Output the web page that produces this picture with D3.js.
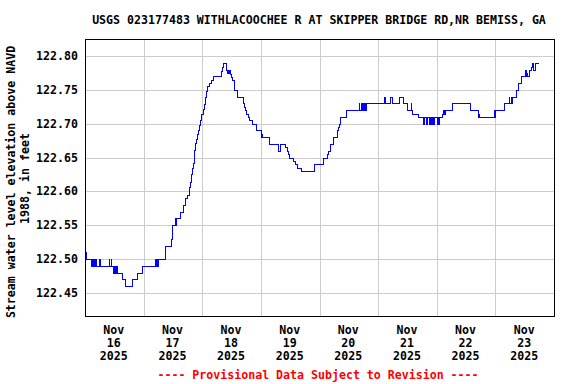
<!DOCTYPE html>
<html>
<head>
<meta charset="utf-8">
<script src="https://cdn.jsdelivr.net/npm/d3@7"></script>
<style>
	body { margin: 0; background: #fff; }
	svg { display: block; }
	text { font-family: "DejaVu Sans Mono", monospace; font-weight: bold; font-size: 11.6px; }
</style>
</head>
<body>
<svg id="chart" width="576" height="384"></svg>
<script>
// Gage readings: hours after Nov 16 2025 00:00 where the value changes, and the value (ft, NAVD 1988)
const hours = [
	0, 0.3, 2.3, 2.7, 3.4, 3.8, 4.0, 4.3, 4.5, 5.8, 6.1, 9.7, 10.0, 10.5, 10.8, 11.4, 11.7, 12.0, 12.3, 12.6,
	12.9, 13.3, 15.3, 16.2, 19.2, 21.1, 23.5, 28.7, 29.0, 29.4, 29.7, 30.0, 32.7, 35.1, 35.5, 35.8, 36.7, 37.0, 37.3, 38.9,
	40.3, 41.1, 41.9, 42.5, 42.7, 43.0, 43.4, 43.8, 44.1, 44.5, 44.8, 45.1, 45.5, 45.9, 46.3, 46.6, 47.0, 47.5, 48.2, 48.6,
	49.0, 49.5, 50.1, 50.8, 51.5, 52.5, 55.7, 56.1, 56.6, 57.8, 58.2, 58.4, 58.7, 59.0, 59.3, 59.8, 60.3, 60.8, 61.2, 62.4,
	64.5, 65.0, 65.4, 65.9, 66.6, 67.3, 68.2, 70.2, 72.0, 72.3, 72.6, 75.5, 79.2, 79.9, 81.9, 82.6, 83.0, 83.7, 85.3, 86.0,
	86.7, 88.4, 93.9, 97.3, 98.9, 99.6, 100.3, 101.7, 103.0, 103.7, 104.1, 104.4, 106.9, 112.0, 112.3, 112.8, 113.1, 113.6, 114.0, 114.4,
	114.7, 115.2, 122.3, 122.9, 124.9, 125.5, 128.7, 130.0, 131.7, 133.3, 133.6, 133.9, 136.2, 138.2, 138.6, 139.6, 140.0, 141.0, 141.4, 141.6,
	142.1, 142.6, 143.0, 144.0, 144.4, 144.7, 145.1, 146.0, 146.7, 147.0, 147.3, 150.3, 157.8, 160.7, 161.0, 161.3, 167.3, 167.6, 168.0, 171.4,
	173.4, 173.7, 174.2, 174.5, 174.8, 176.5, 177.3, 178.6, 180.1, 180.5, 180.8, 181.1, 181.6, 182.6, 183.0, 183.5, 184.1, 185.5,
];
const values = [
	122.51, 122.50, 122.49, 122.50, 122.49, 122.50, 122.49, 122.50, 122.49, 122.50, 122.49, 122.50, 122.49, 122.50, 122.49, 122.48, 122.49, 122.48, 122.49, 122.48,
	122.49, 122.48, 122.47, 122.46, 122.47, 122.48, 122.49, 122.50, 122.49, 122.50, 122.49, 122.50, 122.52, 122.53, 122.54, 122.55, 122.56, 122.55, 122.56, 122.57,
	122.58, 122.59, 122.595, 122.60, 122.607, 122.614, 122.626, 122.635, 122.642, 122.65, 122.661, 122.671, 122.678, 122.685, 122.69, 122.698, 122.705, 122.715, 122.722, 122.729,
	122.739, 122.749, 122.756, 122.76, 122.765, 122.77, 122.778, 122.784, 122.79, 122.78, 122.775, 122.78, 122.775, 122.78, 122.773, 122.769, 122.764, 122.754, 122.75, 122.74,
	122.73, 122.725, 122.72, 122.715, 122.71, 122.705, 122.70, 122.69, 122.68, 122.685, 122.68, 122.67, 122.66, 122.67, 122.665, 122.66, 122.655, 122.65, 122.645, 122.64,
	122.635, 122.63, 122.64, 122.65, 122.655, 122.66, 122.67, 122.68, 122.69, 122.695, 122.70, 122.71, 122.72, 122.73, 122.72, 122.73, 122.72, 122.73, 122.72, 122.73,
	122.72, 122.73, 122.74, 122.73, 122.74, 122.73, 122.74, 122.73, 122.72, 122.73, 122.72, 122.715, 122.71, 122.70, 122.71, 122.70, 122.71, 122.70, 122.71, 122.70,
	122.71, 122.70, 122.71, 122.70, 122.71, 122.70, 122.71, 122.715, 122.72, 122.715, 122.72, 122.73, 122.72, 122.71, 122.715, 122.71, 122.72, 122.71, 122.72, 122.73,
	122.74, 122.73, 122.74, 122.73, 122.74, 122.75, 122.76, 122.77, 122.78, 122.77, 122.775, 122.77, 122.78, 122.784, 122.79, 122.78, 122.79, 122.79,
];
const yTicks = [122.45, 122.50, 122.55, 122.60, 122.65, 122.70, 122.75, 122.80];
const dayLabels = ["16", "17", "18", "19", "20", "21", "22", "23"];

const title = "USGS 023177483 WITHLACOOCHEE R AT SKIPPER BRIDGE RD,NR BEMISS, GA";
const yTitle = ["Stream water level elevation above NAVD", "1988, in feet"];
const footnote = "---- Provisional Data Subject to Revision ----";

const svg = d3.select("#chart");
const plotLeft = 85.5, plotRight = 554.5, plotTop = 39.5, plotBottom = 316.5;

const start = new Date(2025, 10, 16);
const x = d3.scaleTime().domain([start, d3.timeDay.offset(start, 8)]).range([plotLeft, plotRight]);
const y = d3.scaleLinear().domain([122.416, 122.8251]).range([plotBottom, plotTop]);
const snap = (v) => Math.floor(v) + 0.5;

const data = hours.map((h, i) => ({ t: new Date(start.getTime() + h * 3600e3), v: values[i] }));

svg.append("rect").attr("width", 576).attr("height", 384).attr("fill", "#fff");

// grid
const grid = svg.append("g").attr("stroke", "#cccccc").attr("stroke-width", 1).attr("shape-rendering", "crispEdges");
grid.selectAll("line.v")
	.data(d3.timeDay.range(d3.timeDay.offset(start, 1), d3.timeDay.offset(start, 8)))
	.join("line")
	.attr("class", "v")
	.attr("x1", (d) => snap(x(d))).attr("x2", (d) => snap(x(d)))
	.attr("y1", plotTop).attr("y2", plotBottom);
grid.selectAll("line.h")
	.data(yTicks)
	.join("line")
	.attr("class", "h")
	.attr("x1", plotLeft).attr("x2", plotRight)
	.attr("y1", (d) => snap(y(d))).attr("y2", (d) => snap(y(d)));

svg.append("clipPath").attr("id", "plot").append("rect")
	.attr("x", plotLeft).attr("y", plotTop).attr("width", plotRight - plotLeft).attr("height", plotBottom - plotTop);

const line = d3.line().x((d) => x(d.t)).y((d) => y(d.v)).curve(d3.curveStepAfter);
svg.append("path")
	.datum(data)
	.attr("clip-path", "url(#plot)")
	.attr("fill", "none")
	.attr("stroke", "#0000ff")
	.attr("stroke-width", 1)
	.attr("shape-rendering", "crispEdges")
	.attr("d", line);

svg.append("rect")
	.attr("x", plotLeft).attr("y", plotTop).attr("width", plotRight - plotLeft).attr("height", plotBottom - plotTop)
	.attr("fill", "none").attr("stroke", "#000").attr("shape-rendering", "crispEdges");

// y tick labels
svg.append("g").attr("text-anchor", "end")
	.selectAll("text")
	.data(yTicks)
	.join("text")
	.attr("x", 78)
	.attr("y", (d) => snap(y(d)) + 3.8)
	.text((d) => d.toFixed(2));

// x tick labels, centred on noon of each day
const xl = svg.append("g").attr("text-anchor", "middle")
	.selectAll("text")
	.data(d3.timeDay.range(start, d3.timeDay.offset(start, 8)))
	.join("text")
	.attr("transform", (d) => `translate(${x(d3.timeHour.offset(d, 12)) - 1},0)`);
xl.append("tspan").attr("x", 0).attr("y", 334).text("Nov");
xl.append("tspan").attr("x", 0).attr("y", 347).text((d, i) => dayLabels[i]);
xl.append("tspan").attr("x", 0).attr("y", 360).text((d) => d.getFullYear());

svg.append("text").attr("x", 319).attr("y", 24).attr("text-anchor", "middle").text(title);

svg.append("text").attr("transform", "translate(15.3,182) rotate(-90)").attr("text-anchor", "middle").text(yTitle[0]);
svg.append("text").attr("transform", "translate(29.2,178.5) rotate(-90)").attr("text-anchor", "middle").text(yTitle[1]);

svg.append("text").attr("x", 318).attr("y", 379).attr("text-anchor", "middle").attr("fill", "#ff0000").text(footnote);
</script>
</body>
</html>
